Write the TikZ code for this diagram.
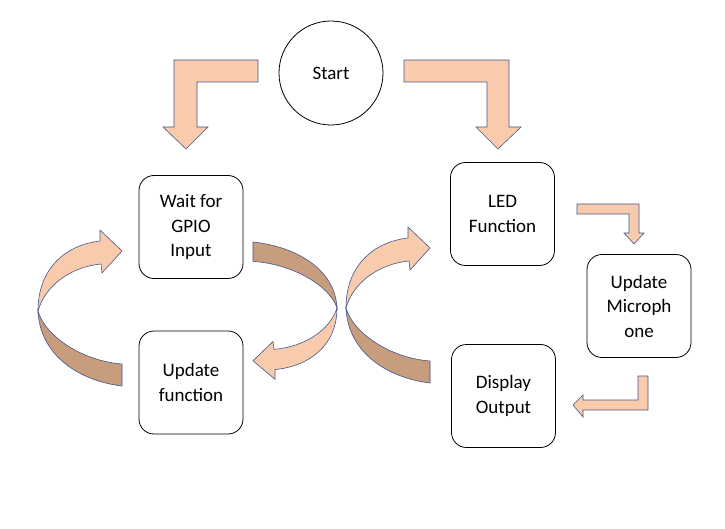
\documentclass[tikz,border=0pt]{standalone}
\usepackage{fontspec}
\setmainfont{Carlito}
\definecolor{peach}{RGB}{248,203,173}
\definecolor{bandback}{RGB}{199,157,125}
\definecolor{rim}{RGB}{70,86,140}

\tikzset{
  procbox/.style={draw, line width=0.8pt, rounded corners=15pt,
    minimum width=104pt, minimum height=103pt, align=center,
    font=\fontsize{19}{24.5}\selectfont},
  blockarrow/.style={fill=peach, draw=rim, line width=0.6pt},
  loop arrow/.pic={
    % back side of the ribbon
    \draw[fill=bandback, draw=rim, line width=0.6pt] (-84,0)
      .. controls (-82,45) and (-42,70) .. (0,75) -- (0,53)
      .. controls (-40,50) and (-77,25) .. (-84,0) -- cycle;
    % front side with the head
    \draw[blockarrow] (-84,0)
      .. controls (-84,-42) and (-57,-66) .. (-22,-70)
      -- (-22,-81) -- (0,-60) -- (-20,-38) -- (-21,-47)
      .. controls (-52,-44) and (-77,-25) .. (-84,0) -- cycle;
  }
}

\begin{document}
\begin{tikzpicture}[x=1pt, y=-1pt]
    \useasboundingbox (0,0) rectangle (725,529);

    \node [draw, circle, line width=0.8pt, minimum size=104pt,
        font=\fontsize{19}{24.5}\selectfont] (start) at (331,73) {Start};

    \node [procbox] (wait) at (191,227) {Wait for\\GPIO\\Input};
    \node [procbox] (upd) at (191,382.5) {Update\\function};
    \node [procbox] (led) at (502.5,214) {LED\\Function};
    \node [procbox] (mic) at (639,306) {Update\\Microph\\one};
    \node [procbox] (disp) at (503.5,396) {Display\\Output};

    % bent arrows
    \draw [blockarrow] (258,60) -- (174,60) -- (174,127) -- (163,127)
        -- (186,149) -- (208,127) -- (197,127) -- (197,82) -- (258,82) -- cycle;
    \draw [blockarrow] (404,60) -- (509,60) -- (509,127) -- (521,127)
        -- (498,149) -- (476,127) -- (487,127) -- (487,82) -- (404,82) -- cycle;
    \draw [blockarrow] (577,204) -- (639,204) -- (639,233) -- (644,233)
        -- (634,244) -- (624,233) -- (629,233) -- (629,214) -- (577,214) -- cycle;
    \draw [blockarrow] (648,376) -- (648,410) -- (583,410) -- (583,417)
        -- (573,405) -- (583,395) -- (583,400) -- (638,400) -- (638,376) -- cycle;

    % circular arrows
    \pic at (122,311) {loop arrow};
    \pic [xscale=-1, yscale=-0.88] at (253,308) {loop arrow};
    \pic at (430,308) {loop arrow};
\end{tikzpicture}
\end{document}
